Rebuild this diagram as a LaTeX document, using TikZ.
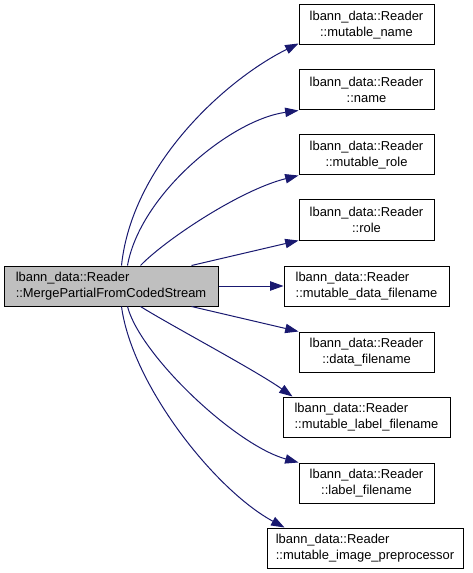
\documentclass[tikz,border=0pt]{standalone}
\usepackage{fontspec}
\setmainfont{Liberation Sans}
\usetikzlibrary{arrows.meta,calc}
\definecolor{edgeblue}{HTML}{191970}
\definecolor{mainfill}{HTML}{BFBFBF}
\begin{document}
\begin{tikzpicture}[x=0.75pt,y=-0.75pt,
  box/.style={draw=black, line width=0.75pt, minimum height=30pt, inner sep=0pt,
    font=\fontsize{9.7}{11.6}\selectfont, align=center},
  lbox/.style={box, align=left},
  edge/.style={draw=edgeblue, line width=0.75pt, -{Triangle[length=10pt,width=7pt]}}]
\useasboundingbox (0,0) rectangle (472,573);
\node[lbox, fill=mainfill, minimum width=160.5pt] (main) at (111,286) {lbann\_data::Reader\\::MergePartialFromCodedStream};
\node[box, minimum width=101.25pt] (n1) at (366.5,25) {lbann\_data::Reader\\::mutable\_name};
\node[box, minimum width=101.25pt] (n2) at (366.5,90) {lbann\_data::Reader\\::name};
\node[box, minimum width=101.25pt] (n3) at (366.5,155) {lbann\_data::Reader\\::mutable\_role};
\node[box, minimum width=101.25pt] (n4) at (366.5,220) {lbann\_data::Reader\\::role};
\node[lbox, minimum width=123.75pt] (n5) at (366.5,286) {lbann\_data::Reader\\::mutable\_data\_filename};
\node[box, minimum width=101.25pt] (n6) at (366.5,352) {lbann\_data::Reader\\::data\_filename};
\node[lbox, minimum width=125.25pt] (n7) at (366.5,417) {lbann\_data::Reader\\::mutable\_label\_filename};
\node[box, minimum width=101.25pt] (n8) at (366.5,483) {lbann\_data::Reader\\::label\_filename};
\node[lbox, minimum width=147pt] (n9) at (365,548) {lbann\_data::Reader\\::mutable\_image\_preprocessor};
\draw[edge] ($(main.north west)+(118,0)$) .. controls (132,165) and (225,80) .. ($(n1.south west)+(0,-2)$);
\draw[edge] ($(main.north west)+(124,0)$) .. controls (140,195) and (230,120) .. (n2.south west);
\draw[edge] ($(main.north west)+(137,0)$) .. controls (165,240) and (240,190) .. (n3.south west);
\draw[edge] ($(main.north west)+(188,0)$) -- (n4.south west);
\draw[edge] (main.east) -- (n5.west);
\draw[edge] ($(main.south west)+(188,0)$) -- (n6.north west);
\draw[edge] ($(main.south west)+(137,0)$) .. controls (170,325) and (255,370) .. ($(n7.north west)+(10,0)$);
\draw[edge] ($(main.south west)+(124,0)$) .. controls (140,355) and (235,445) .. (n8.north west);
\draw[edge] ($(main.south west)+(118,0)$) .. controls (132,385) and (215,490) .. ($(n9.north west)+(18,0)$);
\end{tikzpicture}
\end{document}
